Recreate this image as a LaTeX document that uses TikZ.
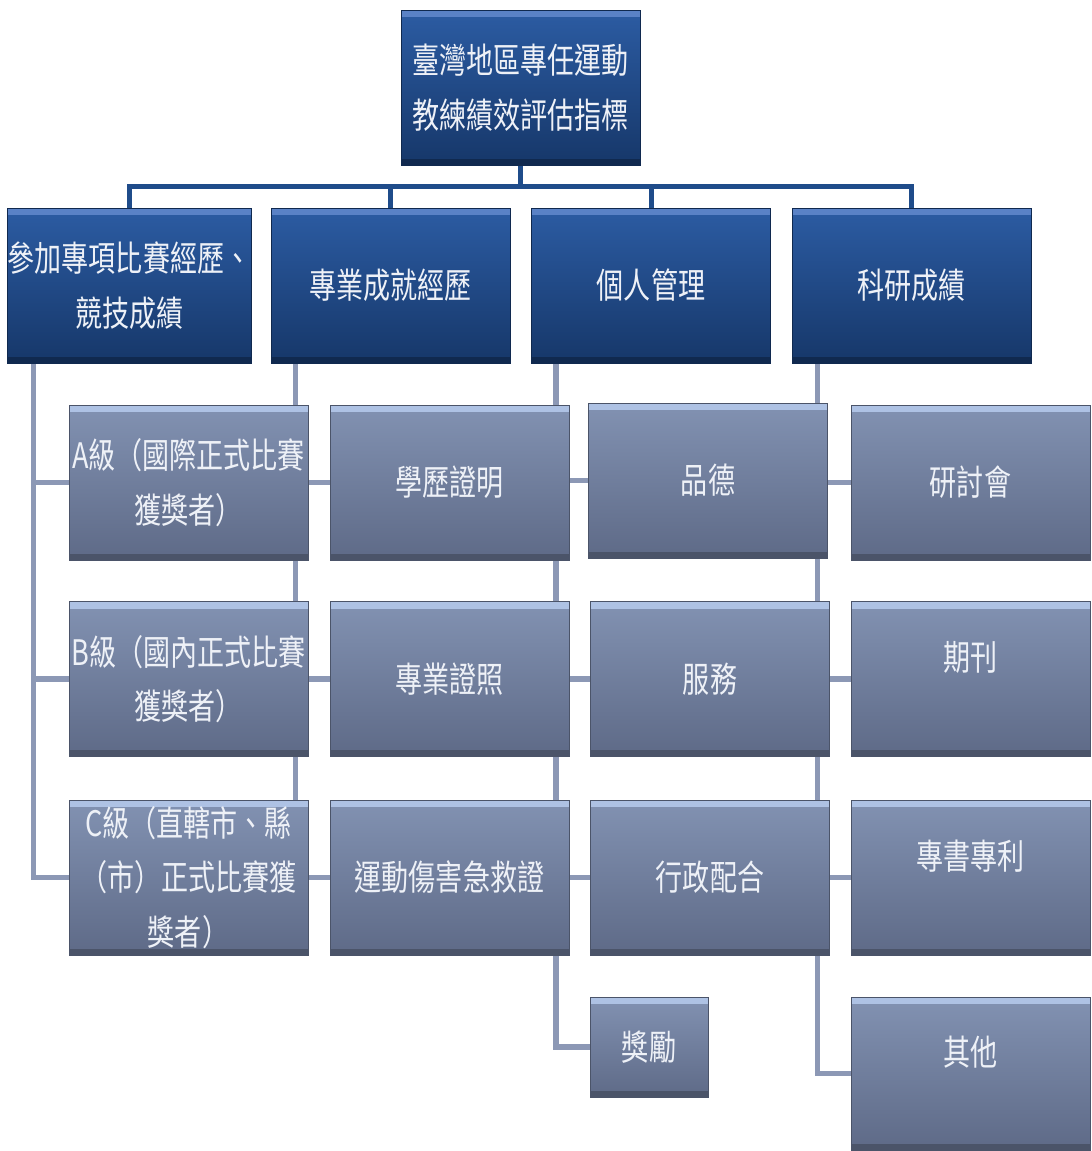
\documentclass[tikz,border=0pt]{standalone}
\usepackage{fontspec}
\newfontfamily\cjk[FakeStretch=0.77]{Noto Sans CJK TC}
\usepackage{xcolor}
\usepackage{tikz}
\usetikzlibrary{calc, positioning}
\pgfdeclarelayer{bg}
\pgfsetlayers{bg,main}

\definecolor{navytop}{HTML}{2C5CA3}
\definecolor{navybot}{HTML}{163769}
\definecolor{navyhl}{HTML}{5A82C6}
\definecolor{navyedge}{HTML}{10294F}
\definecolor{slatetop}{HTML}{8292B2}
\definecolor{slatebot}{HTML}{5E6A87}
\definecolor{slatehl}{HTML}{AEC2E4}
\definecolor{slateedge}{HTML}{4B5469}
\definecolor{busblue}{HTML}{1F4C8A}
\definecolor{linkgray}{HTML}{8C98B5}
\definecolor{textwhite}{HTML}{EEF1F7}

\tikzset{
  box/.style={rectangle, inner sep=0pt, align=center,
    minimum width=4.78cm, minimum height=3.1cm,
    text=textwhite, font=\cjk\fontsize{20}{31}\selectfont},
  boxface/.style n args={2}{path picture={
    \fill[#1] (path picture bounding box.north west)
      rectangle ([yshift=-0.14cm]path picture bounding box.north east);
    \fill[#2] (path picture bounding box.south west)
      rectangle ([yshift=0.12cm]path picture bounding box.south east);}},
  mainbox/.style={box, draw=navyedge, top color=navytop, bottom color=navybot,
    boxface={navyhl}{navyedge}},
  subbox/.style={box, draw=slateedge, top color=slatetop, bottom color=slatebot,
    boxface={slatehl}{slateedge}},
  textup/.style={text depth=0.92cm},
  busline/.style={draw=busblue, line width=0.1cm},
  subline/.style={draw=linkgray, line width=0.11cm}
}

\begin{document}
\begin{tikzpicture}[x=0.02cm, y=-0.02cm]

    % =================================================================
    % 1. KHUNG HÌNH (1091 x 1151)
    % =================================================================
    \useasboundingbox (0,0) rectangle (1091,1151);

    % =================================================================
    % 2. Ô GỐC VÀ BỐN Ô CẤP MỘT
    % =================================================================
    \node[mainbox] (root) at (520.5,87.5) {臺灣地區專任運動\\教練績效評估指標};

    \node[mainbox] (comp) at (129.5,285.5) {參加專項比賽經歷、\\競技成績};
    \node[mainbox] (prof) at (390.5,285.5) {專業成就經歷};
    \node[mainbox] (mgmt) at (651,285.5) {個人管理};
    \node[mainbox] (res)  at (911.5,285.5) {科研成績};

    % =================================================================
    % 3. CÁC Ô CẤP HAI
    % =================================================================
    % cột 1
    \node[subbox] (compA) at (188.5,482.5) {A級（國際正式比賽\\獲獎者）};
    \node[subbox] (compB) at (188.5,679) {B級（國內正式比賽\\獲獎者）};
    \node[subbox] (compC) at (188.5,877.5) {C級（直轄市、縣\\（市）正式比賽獲\\獎者）};

    % cột 2
    \node[subbox] (profEdu)  at (449.5,482.5) {學歷證明};
    \node[subbox] (profCert) at (449.5,679) {專業證照};
    \node[subbox] (profAid)  at (449.5,877.5) {運動傷害急救證};

    % cột 3
    \node[subbox] (mgmtMoral) at (708,480.5) {品德};
    \node[subbox] (mgmtServ)  at (710,679) {服務};
    \node[subbox] (mgmtAdmin) at (710,877.5) {行政配合};
    \node[subbox, minimum width=2.36cm, minimum height=2cm] (mgmtAward) at (649,1047) {獎勵};

    % cột 4
    \node[subbox] (resSem)   at (970.5,482.5) {研討會};
    \node[subbox, textup] (resJour)  at (970.5,679) {期刊};
    \node[subbox, textup] (resBook)  at (970.5,877.5) {專書專利};
    \node[subbox, textup, minimum height=3.06cm] (resOther) at (970.5,1073.5) {其他};

    % =================================================================
    % 4. ĐƯỜNG NỐI (VẼ Ở LỚP NỀN, NẰM DƯỚI CÁC Ô)
    % =================================================================
    \begin{pgfonlayer}{bg}
        \coordinate (busy) at (0,187);
        \foreach \n in {comp,prof,mgmt,res}
            \draw[busline] (root.south) -- (root.south |- busy) -| (\n.north);

        \foreach \n in {compA,compB,compC}
            \draw[subline] ([xshift=0.52cm]comp.south west) |- (\n.west);
        \foreach \n in {profEdu,profCert,profAid}
            \draw[subline] ([xshift=0.5cm]prof.south west) |- (\n.west);
        \foreach \n in {mgmtMoral,mgmtServ,mgmtAdmin,mgmtAward}
            \draw[subline] ([xshift=0.5cm]mgmt.south west) |- (\n.west);
        \foreach \n in {resSem,resJour,resBook,resOther}
            \draw[subline] ([xshift=0.52cm]res.south west) |- (\n.west);
    \end{pgfonlayer}

\end{tikzpicture}
\end{document}
